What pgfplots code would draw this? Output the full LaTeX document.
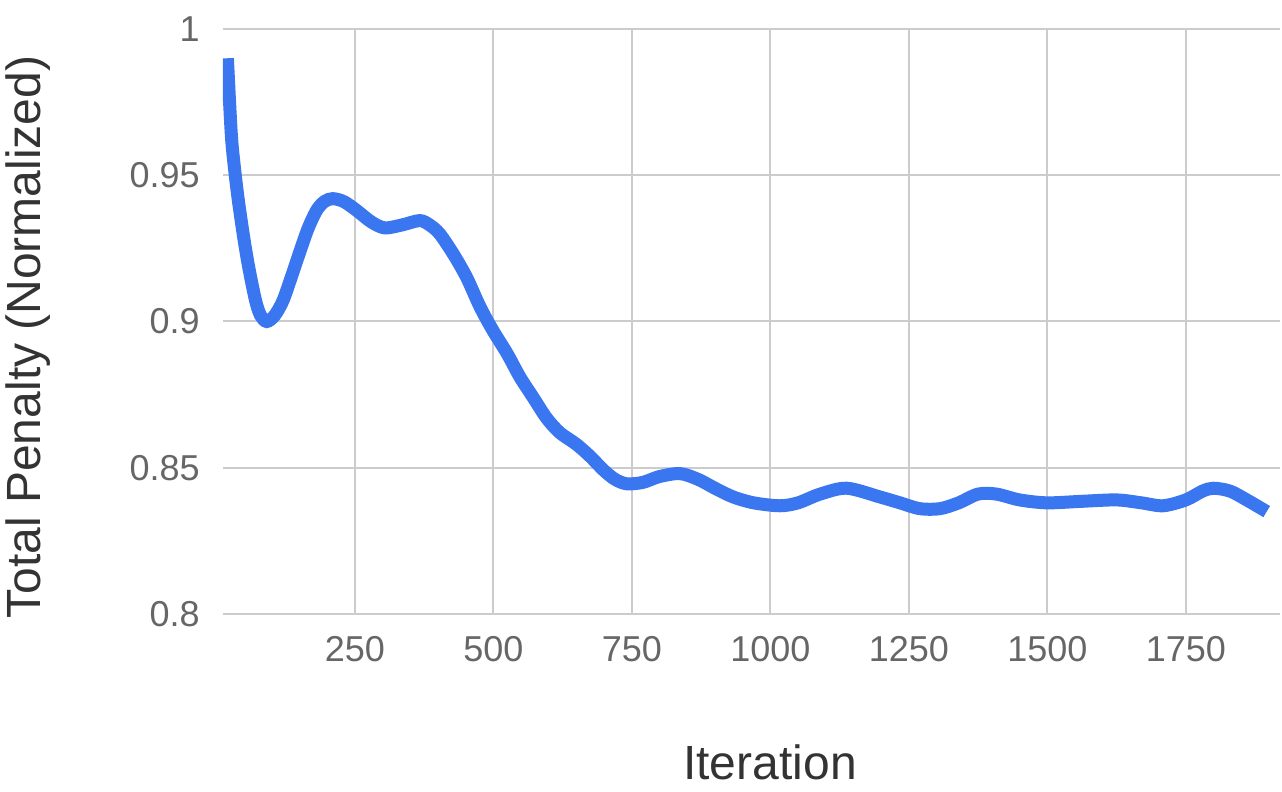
\documentclass[border=0pt]{standalone}
\usepackage{fontspec}
\setmainfont{Liberation Sans}
\usepackage{pgfplots}
\pgfplotsset{compat=1.18}
\definecolor{lineblue}{HTML}{3A76F0}
\definecolor{gridgray}{HTML}{CCCCCC}
\definecolor{ticktext}{HTML}{666666}
\definecolor{titletext}{HTML}{333333}
\begin{document}
\begin{tikzpicture}
\begin{axis}[
  at={(0,0)}, anchor=south west,
  scale only axis, width=528.5pt, height=292.5pt,
  xmin=12, xmax=1920, ymin=0.8, ymax=1,
  xtick={250,500,...,1750}, ytick={0.8,0.85,0.9,0.95,1},
  grid=major, major grid style={draw=gridgray, line width=1pt},
  axis line style={draw=none},
  major tick length=0pt,
  tick label style={font=\fontsize{18}{20}\selectfont, text=ticktext},
  /pgf/number format/assume math mode=true,
  /pgf/number format/1000 sep={},
  xticklabel style={anchor=base, yshift=-24pt},
  yticklabel style={anchor=east, inner sep=0pt, xshift=-11.5pt},
  xlabel={Iteration}, ylabel={Total Penalty (Normalized)},
  every axis x label/.style={at={(axis description cs:0.5175,0)}, anchor=base, yshift=-83pt, font=\fontsize{24}{28}\selectfont, text=titletext},
  every axis y label/.style={at={(axis description cs:-0.1845,0.4735)}, anchor=center, rotate=90, font=\fontsize{24}{28}\selectfont, text=titletext},
]
\addplot[lineblue, line width=6.5pt, smooth, tension=0.5] coordinates {
(20,0.990) (27,0.964) (33,0.952) (40,0.941) (50,0.928) (59,0.918) (71,0.907)
(80,0.902) (91,0.900) (105,0.902) (120,0.907) (135,0.915) (151,0.924)
(166,0.932) (181,0.938) (195,0.941) (210,0.942) (230,0.941) (253,0.938)
(280,0.934) (304,0.932) (335,0.933) (367,0.9345) (385,0.933) (403,0.930)
(428,0.923) (452,0.915) (476,0.905) (499,0.897) (525,0.889) (548,0.881)
(572,0.874) (596,0.867) (620,0.862) (650,0.858) (674,0.854) (700,0.849)
(720,0.846) (741,0.8445) (770,0.845) (800,0.847) (837,0.848) (870,0.846)
(900,0.843) (933,0.840) (970,0.838) (1017,0.837) (1050,0.838) (1090,0.841)
(1138,0.843) (1198,0.840) (1234,0.838) (1270,0.836) (1306,0.836) (1340,0.838)
(1375,0.841) (1408,0.841) (1450,0.839) (1499,0.838) (1560,0.8385) (1625,0.839)
(1670,0.838) (1709,0.837) (1750,0.839) (1780,0.842) (1800,0.843) (1830,0.842)
(1860,0.839) (1896,0.835)
};
\end{axis}
\pgfresetboundingbox
\path (-111.5pt,-89pt) rectangle (529.5pt,307pt);
\end{tikzpicture}
\end{document}
